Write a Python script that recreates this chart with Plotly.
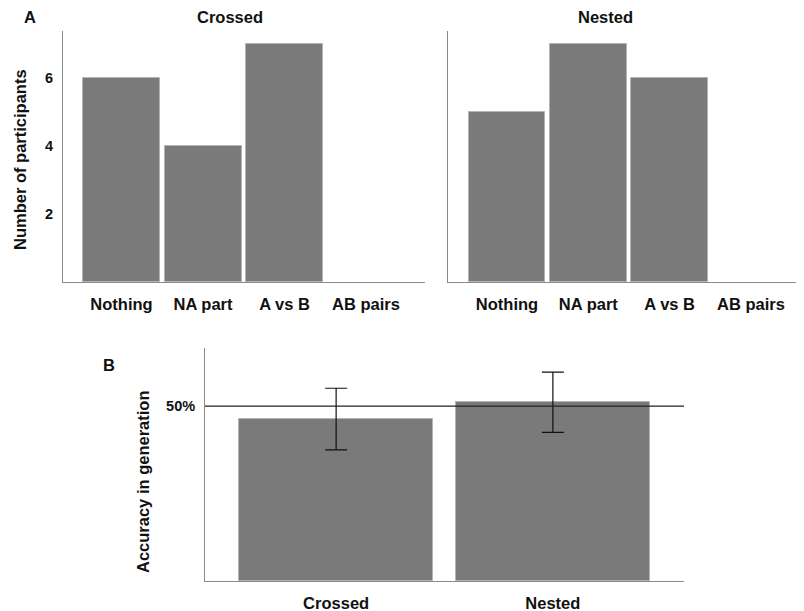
import plotly.graph_objects as go

categories = ["Nothing", "NA part", "A vs B", "AB pairs"]
crossed_counts = [6, 4, 7, 0]
nested_counts = [5, 7, 6, 0]

groups = ["Crossed", "Nested"]
accuracy = [0.463, 0.511]
accuracy_err = [0.088, 0.086]

count_ticks = [2, 4, 6]
acc_tickvals = [0.5]
acc_ticktext = ["50%"]

# page body has an 8px margin; the figure is sized so it fills the window
OFF = 8
W, H = 804 - OFF, 611 - OFF
BAR = "#7a7a7a"
EDGE = "#b4b4b4"
AXIS = "#8a8a8a"
FONT = "Liberation Sans"

def px(x):
    return min(max((x - OFF) / W, 0), 1)

def py(y):
    return min(max(1 - (y - OFF) / H, 0), 1)

def edge_widths(vals):
    return [1 if v > 0 else 0 for v in vals]

fig = go.Figure()

fig.add_trace(go.Bar(x=list(range(len(categories))), y=crossed_counts, width=0.945,
                     marker=dict(color=BAR, line=dict(color=EDGE, width=edge_widths(crossed_counts))),
                     xaxis="x", yaxis="y", showlegend=False))
fig.add_trace(go.Bar(x=list(range(len(categories))), y=nested_counts, width=0.945,
                     marker=dict(color=BAR, line=dict(color=EDGE, width=edge_widths(nested_counts))),
                     xaxis="x2", yaxis="y2", showlegend=False))
fig.add_trace(go.Bar(x=list(range(len(groups))), y=accuracy, width=0.895,
                     marker=dict(color=BAR, line=dict(color=EDGE, width=1)),
                     error_y=dict(type="data", array=accuracy_err, visible=True,
                                  color="#111111", thickness=1.2, width=11),
                     xaxis="x3", yaxis="y3", showlegend=False))

tickfont = dict(family=FONT, size=16.5, color="#111111", weight="bold")
ytickfont = dict(family=FONT, size=14.5, color="#111111", weight="bold")

common_x = dict(showgrid=False, zeroline=False, showline=True, linecolor=AXIS, linewidth=1,
                ticks="", tickfont=tickfont, ticklabelstandoff=7, fixedrange=True)
common_y = dict(showgrid=False, zeroline=False, showline=True, linecolor=AXIS, linewidth=1,
                ticks="", tickfont=ytickfont, fixedrange=True)

fig.update_layout(
    width=W, height=H,
    margin=dict(l=0, r=0, t=0, b=0),
    paper_bgcolor="white", plot_bgcolor="white",
    bargap=0,
    xaxis=dict(common_x, domain=[px(63), px(425)], range=[-0.718, 3.724],
               tickmode="array", tickvals=list(range(len(categories))), ticktext=categories,
               anchor="y"),
    yaxis=dict(common_y, domain=[py(282), py(31)], range=[0, 7.38],
               tickmode="array", tickvals=count_ticks, ticktext=[str(v) for v in count_ticks],
               ticklabelstandoff=6, anchor="x"),
    xaxis2=dict(common_x, domain=[px(448), 1.0], range=[-0.726, 3.653],
                tickmode="array", tickvals=list(range(len(categories))), ticktext=categories,
                anchor="y2"),
    yaxis2=dict(common_y, domain=[py(282), py(31)], range=[0, 7.38],
                showticklabels=False, anchor="x2"),
    xaxis3=dict(common_x, domain=[px(205), px(684)], range=[-0.605, 1.605],
                tickmode="array", tickvals=list(range(len(groups))), ticktext=groups,
                anchor="y3"),
    yaxis3=dict(common_y, domain=[py(581), py(348)], range=[0, 0.666],
                tickmode="array", tickvals=acc_tickvals, ticktext=acc_ticktext,
                ticklabelstandoff=6, anchor="x3"),
)

fig.add_shape(type="line", xref="x3 domain", x0=0, x1=1, yref="y3", y0=0.5, y1=0.5,
              line=dict(color="#222222", width=1.2), layer="above")

ann_font = dict(family=FONT, size=16.5, color="#111111", weight="bold")
annotations = [
    dict(text="A", x=px(30), y=py(17)),
    dict(text="Crossed", x=px(230), y=py(17)),
    dict(text="Nested", x=px(605), y=py(17)),
    dict(text="B", x=px(109), y=py(365)),
    dict(text="Number of participants", x=px(20), y=py(160), textangle=-90),
    dict(text="Accuracy in generation", x=px(143), y=py(482), textangle=-90),
]
for a in annotations:
    fig.add_annotation(xref="paper", yref="paper", showarrow=False,
                       xanchor="center", yanchor="middle", font=ann_font, **a)

fig.write_html("out.html")
